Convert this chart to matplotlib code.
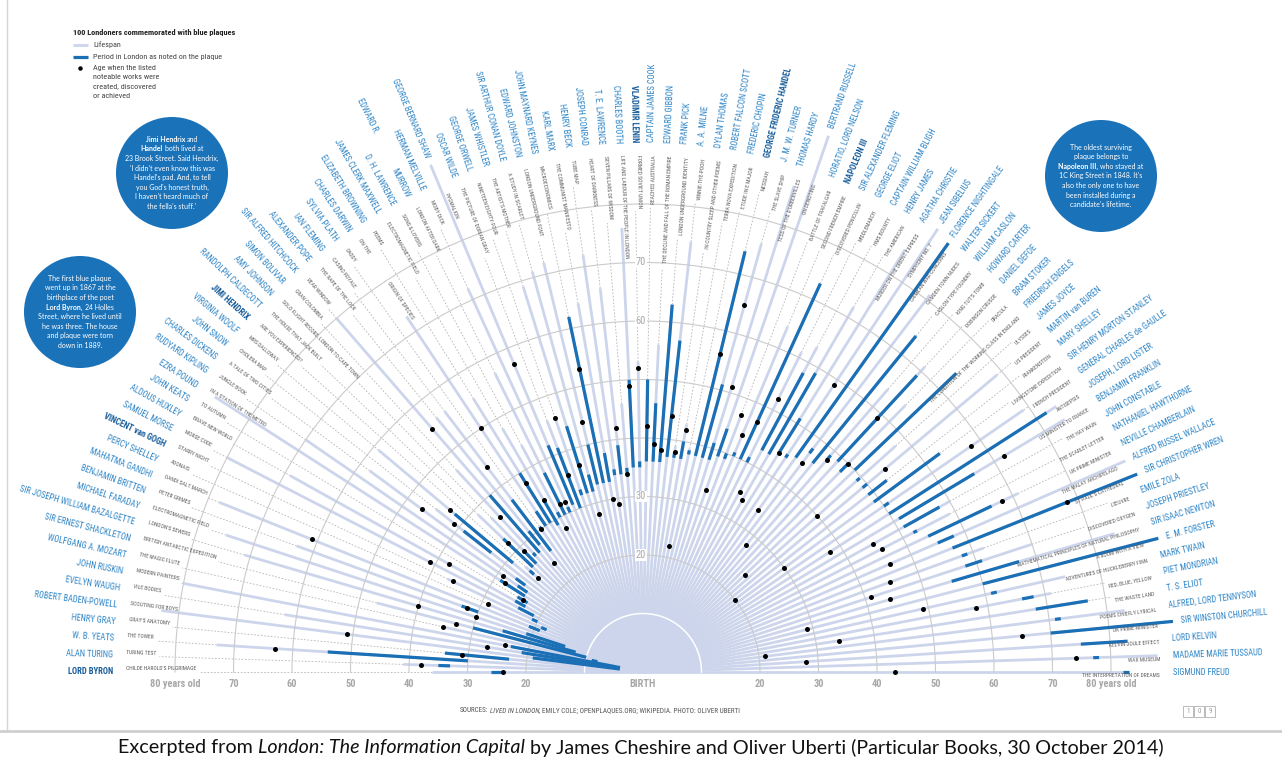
import os
import numpy as np
import matplotlib
matplotlib.use("Agg")
import matplotlib.pyplot as plt
from matplotlib import font_manager as fm
from matplotlib.patches import Circle, Rectangle
from matplotlib.textpath import TextPath
from matplotlib.font_manager import FontProperties

# ---- data: 100 Londoners, from left (Byron) round to right (Freud) ----
names = [
    "LORD BYRON", "ALAN TURING", "W. B. YEATS", "HENRY GRAY", "ROBERT BADEN-POWELL",
    "EVELYN WAUGH", "JOHN RUSKIN", "WOLFGANG A. MOZART", "SIR ERNEST SHACKLETON", "SIR JOSEPH WILLIAM BAZALGETTE",
    "MICHAEL FARADAY", "BENJAMIN BRITTEN", "MAHATMA GANDHI", "PERCY SHELLEY", "VINCENT van GOGH",
    "SAMUEL MORSE", "ALDOUS HUXLEY", "JOHN KEATS", "EZRA POUND", "RUDYARD KIPLING",
    "CHARLES DICKENS", "JOHN SNOW", "VIRGINIA WOOLF", "JIMI HENDRIX", "RANDOLPH CALDECOTT",
    "AMY JOHNSON", "SIMON BOLIVAR", "SIR ALFRED HITCHCOCK", "ALEXANDER POPE", "IAN FLEMING",
    "SYLVIA PLATH", "CHARLES DARWIN", "ELIZABETH BROWNING", "JAMES CLERK MAXWELL", "D. H. LAWRENCE",
    "EDWARD R.|MURROW", "HERMAN MELVILLE", "GEORGE BERNARD SHAW", "OSCAR WILDE", "GEORGE ORWELL",
    "JAMES WHISTLER", "SIR ARTHUR CONAN DOYLE", "EDWARD JOHNSTON", "JOHN MAYNARD KEYNES", "KARL MARX",
    "HENRY BECK", "JOSEPH CONRAD", "T. E. LAWRENCE", "CHARLES BOOTH", "VLADIMIR LENIN",
    "CAPTAIN JAMES COOK", "EDWARD GIBBON", "FRANK PICK", "A. A. MILNE", "DYLAN THOMAS",
    "ROBERT FALCON SCOTT", "FREDERIC CHOPIN", "GEORGE FRIDERIC HANDEL", "J. M. W. TURNER", "THOMAS HARDY",
    "BERTRAND RUSSELL", "HORATIO, LORD NELSON", "NAPOLEON III", "SIR ALEXANDER FLEMING", "GEORGE ELIOT",
    "CAPTAIN WILLIAM BLIGH", "HENRY JAMES", "AGATHA CHRISTIE", "JEAN SIBELIUS", "FLORENCE NIGHTINGALE",
    "WALTER SICKERT", "WILLIAM CASLON", "HOWARD CARTER", "DANIEL DEFOE", "BRAM STOKER",
    "FRIEDRICH ENGELS", "JAMES JOYCE", "MARTIN van BUREN", "MARY SHELLEY", "SIR HENRY MORTON STANLEY",
    "GENERAL CHARLES de GAULLE", "JOSEPH, LORD LISTER", "BENJAMIN FRANKLIN", "JOHN CONSTABLE", "NATHANIEL HAWTHORNE",
    "NEVILLE CHAMBERLAIN", "ALFRED RUSSEL WALLACE", "SIR CHRISTOPHER WREN", "EMILE ZOLA", "JOSEPH PRIESTLEY",
    "SIR ISAAC NEWTON", "E. M. FORSTER", "MARK TWAIN", "PIET MONDRIAN", "T. S. ELIOT",
    "ALFRED, LORD TENNYSON", "SIR WINSTON CHURCHILL", "LORD KELVIN", "MADAME MARIE TUSSAUD", "SIGMUND FREUD",
]
bold_names = ["LORD BYRON", "VINCENT van GOGH", "JIMI HENDRIX", "VLADIMIR LENIN",
              "GEORGE FRIDERIC HANDEL", "NAPOLEON III"]

works = [
    "CHILDE HAROLD'S PILGRIMAGE", "TURING TEST", "THE TOWER", "GRAY'S ANATOMY", "SCOUTING FOR BOYS",
    "VILE BODIES", "MODERN PAINTERS", "THE MAGIC FLUTE", "BRITISH ANTARCTIC EXPEDITION", "LONDON'S SEWERS",
    "ELECTROMAGNETIC FIELD", "PETER GRIMES", "DANDI SALT MARCH", "ADONAIS", "STARRY NIGHT",
    "MORSE CODE", "BRAVE NEW WORLD", "TO AUTUMN", "IN A STATION OF THE METRO", "JUNGLE BOOK",
    "A TALE OF TWO CITIES", "CHOLERA MAP", "MRS DALLOWAY", "ARE YOU EXPERIENCED?", "THE HOUSE THAT JACK BUILT",
    "SOLO FLIGHT RECORD, LONDON TO CAPE TOWN", "GRAN COLOMBIA", "REAR WINDOW", "THE RAPE OF THE LOCK", "CASINO ROYALE",
    "DADDY", "ON THE|ORIGIN OF SPECIES", "POEMS", "ELECTROMAGNETIC FIELD", "SONS & LOVERS",
    "LONDON AFTER DARK", "MOBY DICK", "PYGMALION", "THE PICTURE OF DORIAN GRAY", "NINETEEN EIGHTY-FOUR",
    "THE ARTIST'S MOTHER", "A STUDY IN SCARLET", "LONDON UNDERGROUND FONT", "MACROECONOMICS", "THE COMMUNIST MANIFESTO",
    "TUBE MAP", "HEART OF DARKNESS", "SEVEN PILLARS OF WISDOM", "LIFE AND LABOUR OF THE PEOPLE IN LONDON", "FORMED SOVIET UNION",
    "REACHED AUSTRALIA", "THE DECLINE AND FALL OF THE ROMAN EMPIRE", "LONDON UNDERGROUND IDENTITY", "WINNIE-THE-POOH", "IN COUNTRY SLEEP AND OTHER POEMS",
    "TERRA NOVA EXPEDITION", "ETUDE IN E MAJOR", "MESSIAH", "THE SLAVE SHIP", "TESS OF THE D'URBERVILLES",
    "ON DENOTING", "BATTLE OF TRAFALGAR", "SECOND FRENCH EMPIRE", "DISCOVERED PENICILLIN", "MIDDLEMARCH",
    "HMS BOUNTY", "THE AMERICAN", "MURDER ON THE ORIENT EXPRESS", "SYMPHONY NO. 7", "CRIMEAN WAR CONCERNS",
    "CAMDEN TOWN NUDES", "CASLON TYPE FOUNDRY", "KING TUT'S TOMB", "ROBINSON CRUSOE", "DRACULA",
    "THE CONDITION OF THE WORKING CLASS IN ENGLAND", "ULYSSES", "US PRESIDENT", "FRANKENSTEIN", "LIVINGSTONE EXPEDITION",
    "FRENCH PRESIDENT", "ANTISEPSIS", "US MINISTER TO FRANCE", "THE HAY WAIN", "THE SCARLET LETTER",
    "UK PRIME MINISTER", "THE MALAY ARCHIPELAGO", "ST PAUL'S CATHEDRAL", "L'ŒUVRE", "DISCOVERED OXYGEN",
    "MATHEMATICAL PRINCIPLES OF NATURAL PHILOSOPHY", "A ROOM WITH A VIEW", "ADVENTURES OF HUCKLEBERRY FINN", "RED, BLUE, YELLOW", "THE WASTE LAND",
    "POEMS CHIEFLY LYRICAL", "UK PRIME MINISTER", "KELVIN-JOULE EFFECT", "WAX MUSEUM", "THE INTERPRETATION OF DREAMS",
]

died = [36, 41, 73, 34, 83, 62, 80, 35, 47, 71,
        75, 63, 78, 29, 37, 80, 69, 25, 87, 70,
        58, 45, 59, 27, 39, 37, 47, 80, 56, 56,
        30, 73, 55, 48, 44, 57, 72, 94, 46, 46,
        69, 71, 72, 62, 64, 72, 66, 46, 76, 53,
        50, 56, 63, 74, 39, 43, 39, 74, 76, 87,
        97, 47, 64, 73, 61, 63, 72, 85, 91, 90,
        81, 74, 64, 71, 64, 74, 58, 79, 53, 63,
        79, 84, 84, 60, 59, 71, 90, 90, 62, 70,
        84, 91, 74, 71, 76, 83, 90, 83, 88, 83]

work_age = [24, 38, 63, 31, 51, 27, 24, 35, 33, 40,
            30, 32, 61, 29, 36, 41, 38, 24, 28, 29,
            47, 41, 43, 24, 32, 29, 36, 55, 24, 44,
            30, 50, 38, 34, 28, 32, 32, 57, 36, 46,
            37, 28, 44, 53, 30, 29, 42, 34, 49, 52,
            42, 39, 38, 44, 38, 42, 22, 56, 65, 51,
            33, 47, 44, 47, 52, 35, 34, 44, 59, 34,
            45, 28, 48, 59, 50, 24, 40, 54, 20, 30,
            68, 38, 72, 45, 46, 68, 46, 78, 45, 41,
            44, 29, 49, 58, 34, 21, 65, 28, 74, 43]

london_from = [24, 33, 30, 23, 4, 4, 4, 8, 10, 12,
               14, 30, 19, 18, 20, 21, 23, 23, 24, 24,
               25, 33, 29, 25, 26, 26, 27, 27, 28, 26,
               29.5, 30, 30, 29, 30, 30, 30, 31, 30, 32,
               32, 32, 33, 33, 33, 34, 34, 34, 35, 35,
               36, 36, 36, 37, 37, 37, 38, 38, 38, 38,
               39, 39, 40, 40, 40, 43, 43, 44, 44, 45,
               47, 46, 48, 49, 48, 50, 49, 49, 49, 49,
               50, 50, 51, 51, 52, 54, 55, 57, 58, 58,
               55, 60, 61, 66, 68, 71, 70, 75, 77, 82]
london_to = [26, 35, 54, 34, 19, 21, 23, 9, 30, 25,
             21, 33, 21, 19, 21, 24, 25, 25, 29, 26,
             27, 39, 42, 26, 33, 29, 27.7, 40, 31, 37,
             30.5, 33, 40, 34, 31, 38, 31, 42, 41, 33,
             44, 35, 40, 62, 38, 35, 39, 35, 50, 36,
             50, 46, 63, 57, 38, 40, 38.7, 74, 51, 41,
             44, 40, 40.7, 73, 41, 58, 59, 51, 44.7, 90,
             48, 74, 49, 69, 50, 74, 49.7, 50, 53, 63,
             51, 82, 66, 58, 52.7, 66, 58, 91, 59, 61,
             67, 91, 62, 68, 77, 72, 91, 83, 78, 83]

# ---- fonts: a narrow face for the many labels, Lato for the notes ----
files = {os.path.basename(f.fname).lower(): f.fname for f in fm.fontManager.ttflist}


def find_font(cands, fallback):
    for c in cands:
        if c.lower() in files:
            return FontProperties(fname=files[c.lower()])
    return fallback


NARROW = find_font(["LiberationSansNarrow-Regular.ttf", "RobotoCondensed-Regular.ttf",
                    "NotoSans-SemiCondensed.ttf", "NotoSans-Condensed.ttf",
                    "DejaVuSansCondensed.ttf"], FontProperties(family="Lato"))
NARROW_B = find_font(["LiberationSansNarrow-Bold.ttf", "RobotoCondensed-Bold.ttf",
                      "NotoSans-SemiCondensedBold.ttf", "NotoSans-CondensedBold.ttf",
                      "DejaVuSansCondensed-Bold.ttf"], FontProperties(family="Lato", weight="bold"))
NARROW_I = find_font(["LiberationSansNarrow-Italic.ttf", "RobotoCondensed-Italic.ttf",
                      "NotoSans-SemiCondensedItalic.ttf", "NotoSans-CondensedItalic.ttf",
                      "DejaVuSansCondensed-Oblique.ttf"], FontProperties(family="Lato", style="italic"))
LATO = FontProperties(family="Lato")
LATO_B = FontProperties(family="Lato", weight="bold")
LATO_I = FontProperties(family="Lato", style="italic")


def ink(s, fp, size):
    # width in pixels of a string at a size in points (dpi 100)
    return TextPath((0, 0), s, size=size, prop=fp).get_extents().width * 100 / 72


def fit(s, target_px, fp):
    return 10 * target_px / ink(s, fp, 10)


# ---- layout ----
W, H = 1282, 769
CX, CY = 643, 672          # pixel position of "BIRTH"
S = 5.85                   # pixels per year
NAME_R = 530 / S
WORK_R = 517 / S

LIGHT = "#ccd5eb"
DARK = "#1b6fb5"
NAMEC = "#2c84c6"
BOLDC = "#165c9a"
GRID = "#cbcbcb"
WORKC = "#5a5a5a"
TICKC = "#a8a8a8"
CIRC = "#1a72b9"

NAME_FS = fit("SIR JOSEPH WILLIAM BAZALGETTE", 120, NARROW)
WORK_FS = fit("THE INTERPRETATION OF DREAMS", 79, NARROW)
TITLE_FS = fit("100 Londoners commemorated with blue plaques", 162, NARROW_B)
LEG_FS = fit("Period in London as noted on the plaque", 128, NARROW)
TICK_FS = fit("80 years old", 50, NARROW_B)
NOTE_FS = fit("23 Brook Street. Said Hendrix,", 93, LATO)
CAP_FS = fit("Excerpted from London: The Information Capital by James Cheshire and Oliver "
             "Uberti (Particular Books, 30 October 2014)", 1060, LATO)
SRC_FS = fit("SOURCES: LIVED IN LONDON, EMILY COLE; OPENPLAQUES.ORG; WIKIPEDIA. PHOTO: "
             "OLIVER UBERTI", 285, NARROW)

fig = plt.figure(figsize=(W / 100, H / 100), dpi=100)
ax = fig.add_axes([0, 0, 1, 1])
ax.set_xlim(-CX / S, (W - CX) / S)
ax.set_ylim(-(H - CY) / S, CY / S)
ax.axis("off")
renderer = fig.canvas.get_renderer()


def D(px, py):
    return (px - CX) / S, (CY - py) / S


def drawn_width(s, fp, size):
    tmp = ax.text(0, 0, s, fontproperties=fp, fontsize=size)
    w = tmp.get_window_extent(renderer).width
    tmp.remove()
    return w


def rich(cx_px, y_px, pieces, size, color, zorder=7):
    # pieces: (text, fontprops, space_before); the whole line centred on cx_px
    sp = drawn_width("n n", pieces[0][1], size) - drawn_width("nn", pieces[0][1], size)
    widths = [drawn_width(t, fp, size) for t, fp, _ in pieces]
    total = sum(widths) + sp * sum(1 for _, _, g in pieces[1:] if g)
    x = cx_px - total / 2
    for k, ((t, fp, g), w) in enumerate(zip(pieces, widths)):
        if k and g:
            x += sp
        ax.text(*D(x, y_px), t, fontproperties=fp, fontsize=size, color=color,
                ha="left", va="center", zorder=zorder)
        x += w


# grid arcs
t = np.linspace(0, np.pi, 400)
for r in range(20, 81, 10):
    ax.plot(r * np.cos(t), r * np.sin(t), color=GRID, lw=0.8, zorder=2.3)
ax.plot(10 * np.cos(t), 10 * np.sin(t), color="white", lw=1.1, zorder=2.4)

n = len(names)
for i in range(n):
    th = np.pi - i * np.pi / (n - 1)
    c, s = np.cos(th), np.sin(th)
    left = th > np.pi / 2
    rot = np.degrees(th) - 180 if left else np.degrees(th)

    ax.plot([0, died[i] * c], [0, died[i] * s], color=LIGHT, lw=2.0,
            solid_capstyle="butt", zorder=2)
    a, b = london_from[i], london_to[i]
    ax.plot([a * c, b * c], [a * s, b * s], color=DARK, lw=2.3,
            solid_capstyle="butt", zorder=3)
    ax.plot(work_age[i] * c, work_age[i] * s, "o", color="black", ms=3.6,
            mec="none", zorder=4)

    # name, pushed outwards when the lines run past the usual radius
    end = max(died[i], london_to[i])
    r_name = max(NAME_R, end + 8 / S)
    isbold = names[i] in bold_names
    fp = NARROW_B if isbold else NARROW
    col = BOLDC if isbold else NAMEC
    r = r_name
    for p in reversed(names[i].split("|")):
        ax.text(r * c, r * s, p, rotation=rot, rotation_mode="anchor",
                ha="right" if left else "left", va="center",
                fontproperties=fp, fontsize=NAME_FS, color=col, zorder=5)
        r += (ink(p, fp, NAME_FS) + 40) / S

    # work label, slightly clockwise of the ray
    off = 3.5 / S
    ox, oy = off * s, -off * c
    r = WORK_R
    for p in works[i].split("|"):
        ax.text(r * c + ox, r * s + oy, p, rotation=rot, rotation_mode="anchor",
                ha="left" if left else "right", va="center",
                fontproperties=NARROW, fontsize=WORK_FS, color=WORKC, zorder=5)
        r -= (ink(p, NARROW, WORK_FS) + 34) / S
    r_in = r + 31 / S
    if r_in > died[i]:
        ax.plot([died[i] * c, r_in * c], [died[i] * s, r_in * s], color="#b5b5b5",
                lw=0.6, ls=(0, (2, 2)), zorder=1)

# axis labels along the base
ty = D(0, 684)[1]
for v in [20, 30, 40, 50, 60, 70]:
    for sgn in (-1, 1):
        ax.text(sgn * v, ty, str(v), ha="center", va="center", fontproperties=NARROW_B,
                fontsize=TICK_FS, color=TICKC)
for sgn in (-1, 1):
    ax.text(sgn * 80, ty, "80 years old", ha="center", va="center",
            fontproperties=NARROW_B, fontsize=TICK_FS, color=TICKC)
ax.text(0, ty, "BIRTH", ha="center", va="center", fontproperties=NARROW_B,
        fontsize=TICK_FS, color=TICKC)
for v in [20, 30, 60, 70]:
    ax.text(-0.4, v, str(v), ha="center", va="center", fontproperties=NARROW,
            fontsize=TICK_FS, color=TICKC, zorder=2.6,
            bbox=dict(facecolor="white", edgecolor="none", pad=0.6))

# title and legend
ax.text(*D(73, 33), "100 Londoners commemorated with blue plaques", fontproperties=NARROW_B,
        fontsize=TITLE_FS, color="#222222", ha="left", va="center")
x0, y0 = D(73, 45)
x1, _ = D(88, 45)
ax.plot([x0, x1], [y0, y0], color=LIGHT, lw=2.0, solid_capstyle="butt")
ax.text(*D(93, 45), "Lifespan", fontproperties=NARROW, fontsize=LEG_FS,
        color="#444444", va="center")
x0, y0 = D(73, 57)
ax.plot([x0, x1], [y0, y0], color=DARK, lw=2.3, solid_capstyle="butt")
ax.text(*D(93, 57), "Period in London as noted on the plaque", fontproperties=NARROW,
        fontsize=LEG_FS, color="#444444", va="center")
ax.plot(*D(80, 68), "o", color="black", ms=3.2, mec="none")
for k, line in enumerate(["Age when the listed", "noteable works were",
                          "created, discovered", "or achieved"]):
    ax.text(*D(93, 68 + 9.3 * k), line, fontproperties=NARROW, fontsize=LEG_FS,
            color="#444444", va="center")

# blue note circles
R, B = LATO, LATO_B
notes = [
    ((172, 173), [[("Jimi Hendrix", B, 0), ("and", R, 1)],
                  [("Handel", B, 0), ("both lived at", R, 1)],
                  [("23 Brook Street. Said Hendrix,", R, 0)],
                  [("'I didn't even know this was", R, 0)],
                  [("Handel's pad. And, to tell", R, 0)],
                  [("you God's honest truth,", R, 0)],
                  [("I haven't heard much of", R, 0)],
                  [("the fella's stuff.'", R, 0)]]),
    ((80, 312), [[("The first blue plaque", R, 0)],
                 [("went up in 1867 at the", R, 0)],
                 [("birthplace of the poet", R, 0)],
                 [("Lord Byron,", B, 0), ("24 Holles", R, 1)],
                 [("Street, where he lived until", R, 0)],
                 [("he was three. The house", R, 0)],
                 [("and plaque were torn", R, 0)],
                 [("down in 1889.", R, 0)]]),
    ((1101, 176), [[("The oldest surviving", R, 0)],
                   [("plaque belongs to", R, 0)],
                   [("Napoleon III,", B, 0), ("who stayed at", R, 1)],
                   [("1C King Street in 1848. It's", R, 0)],
                   [("also the only one to have", R, 0)],
                   [("been installed during a", R, 0)],
                   [("candidate's lifetime.", R, 0)]]),
]
for (px, py), lines in notes:
    ax.add_patch(Circle(D(px, py), 56 / S, facecolor=CIRC, edgecolor="none", zorder=6))
    top = py - 9.6 * (len(lines) - 1) / 2
    for k, pieces in enumerate(lines):
        rich(px, top + 9.6 * k, pieces, NOTE_FS, "white")

# sources, page number, frame and caption
rich(600, 711, [("SOURCES:", NARROW, 0), ("LIVED IN LONDON", NARROW_I, 1),
                (", EMILY COLE; OPENPLAQUES.ORG; WIKIPEDIA. PHOTO: OLIVER UBERTI", NARROW, 0)],
     SRC_FS, "#555555", zorder=5)
for k, d in enumerate("109"):
    bx, by = D(1183 + 11 * k, 717)
    ax.add_patch(Rectangle((bx, by), 10 / S, 11 / S, facecolor="white",
                           edgecolor="#b0b0b0", lw=0.6))
    ax.text(bx + 5 / S, by + 5.5 / S, d, ha="center", va="center", fontproperties=NARROW,
            fontsize=5, color="#999999")
ax.plot(*zip(D(7, 0), D(7, 731)), color="#d4d4d4", lw=1.0)
ax.plot(*zip(D(0, 731), D(W, 731)), color="#cfcfcf", lw=2.0)
rich(641, 748, [("Excerpted from", LATO, 0), ("London: The Information Capital", LATO_I, 1),
                ("by James Cheshire and Oliver Uberti (Particular Books, 30 October 2014)",
                 LATO, 1)], CAP_FS, "#111111", zorder=5)

fig.savefig("out.png", dpi=100)
